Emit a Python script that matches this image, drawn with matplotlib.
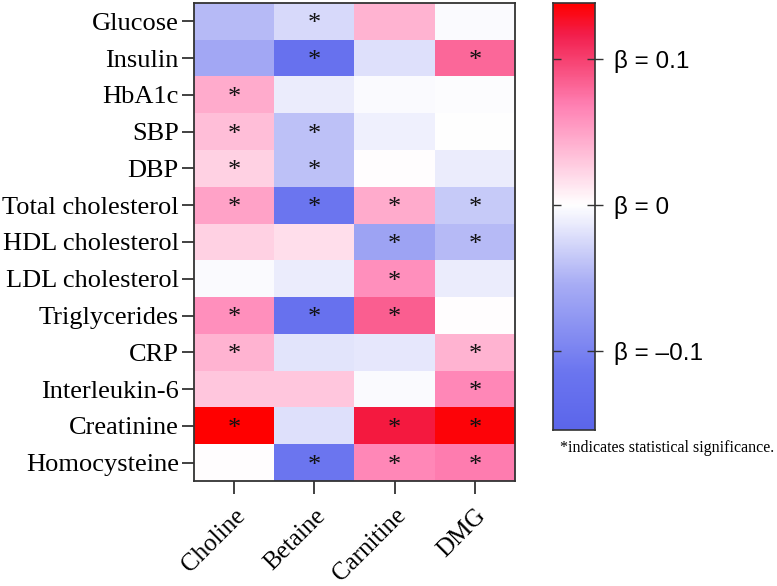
import numpy as np
import matplotlib.pyplot as plt
from matplotlib.colors import LinearSegmentedColormap, Normalize

rows = ['Glucose', 'Insulin', 'HbA1c', 'SBP', 'DBP', 'Total cholesterol',
        'HDL cholesterol', 'LDL cholesterol', 'Triglycerides', 'CRP',
        'Interleukin-6', 'Creatinine', 'Homocysteine']
cols = ['Choline', 'Betaine', 'Carnitine', 'DMG']

beta = np.array([
    [-0.045, -0.025,  0.040, -0.003],
    [-0.060, -0.125, -0.020,  0.080],
    [ 0.045, -0.012, -0.003, -0.002],
    [ 0.035, -0.040, -0.010, -0.001],
    [ 0.025, -0.040,  0.000, -0.012],
    [ 0.050, -0.115,  0.045, -0.035],
    [ 0.025,  0.018, -0.065, -0.045],
    [-0.003, -0.012,  0.060, -0.012],
    [ 0.060, -0.125,  0.085,  0.000],
    [ 0.040, -0.018, -0.015,  0.040],
    [ 0.030,  0.030, -0.003,  0.065],
    [ 0.140, -0.020,  0.120,  0.135],
    [ 0.000, -0.115,  0.065,  0.070],
])
sig = np.array([
    [0, 1, 0, 0],
    [0, 1, 0, 1],
    [1, 0, 0, 0],
    [1, 1, 0, 0],
    [1, 1, 0, 0],
    [1, 1, 1, 1],
    [0, 0, 1, 1],
    [0, 0, 1, 0],
    [1, 1, 1, 0],
    [1, 0, 0, 1],
    [0, 0, 0, 1],
    [1, 0, 1, 1],
    [0, 1, 1, 1],
])

vmin, vmax = -0.154, 0.138
f0 = -vmin / (vmax - vmin)
cmap = LinearSegmentedColormap.from_list('bwr2', [
    (0.0, (0.36, 0.40, 0.92)),
    (f0 * 0.25, (0.42, 0.46, 0.94)),
    (f0 * 0.65, (0.66, 0.68, 0.96)),
    (f0, (1.0, 1.0, 1.0)),
    (f0 + 0.5 * (1 - f0), (1.0, 0.50, 0.70)),
    (f0 + 0.85 * (1 - f0), (0.95, 0.12, 0.30)),
    (1.0, (1.0, 0.0, 0.0)),
])
norm = Normalize(vmin=vmin, vmax=vmax)

plt.rcParams['font.family'] = 'Liberation Serif'
fig = plt.figure(figsize=(7.77, 5.86), dpi=100)
ax = fig.add_axes([194/777, 1 - 481/586, 321/777, 478/586])
ax.imshow(beta, cmap=cmap, norm=norm, aspect='auto', interpolation='nearest')
for i in range(len(rows)):
    for j in range(len(cols)):
        if sig[i, j]:
            ax.text(j, i + 0.08, '*', ha='center', va='center', fontsize=19, color='#111111')

ax.set_yticks(range(len(rows)))
ax.set_yticklabels(rows, fontsize=19)
ax.set_xticks(range(len(cols)))
ax.set_xticklabels(cols, fontsize=18, rotation=45, ha='right', rotation_mode='anchor')
ax.tick_params(axis='both', length=9, width=1.3, color='#333333', pad=2)
ax.tick_params(axis='x', pad=8)
for s in ax.spines.values():
    s.set_linewidth(1.3)
    s.set_color('#333333')

cax = fig.add_axes([553/777, 1 - 430/586, 42/777, 427/586])
grad = np.linspace(vmin, vmax, 300).reshape(-1, 1)
cax.imshow(grad, cmap=cmap, norm=norm, aspect='auto', origin='lower',
           extent=[0, 1, vmin, vmax])
cax.set_xticks([])
cax.yaxis.tick_right()
cax.set_yticks([0.1, 0, -0.1])
cax.set_yticklabels(['β = 0.1', 'β = 0', 'β = –0.1'], family='Liberation Sans', fontsize=17.5)
cax.tick_params(axis='y', length=12, width=1, direction='inout', pad=8, color='#333333')
for s in cax.spines.values():
    s.set_linewidth(1.2)
    s.set_color('#333333')

# inner ticks on the left side of the colour bar
cax2 = fig.add_axes(cax.get_position(), frameon=False)
cax2.set_ylim(vmin, vmax)
cax2.set_xticks([])
cax2.set_yticks([0.1, 0, -0.1])
cax2.set_yticklabels([])
cax2.tick_params(axis='y', length=6, width=1, direction='in', color='#333333')

fig.text(560/777, 1 - 448/586, '*indicates statistical significance.', fontsize=11.5,
         va='center', ha='left')

fig.savefig('out.png', dpi=100)
